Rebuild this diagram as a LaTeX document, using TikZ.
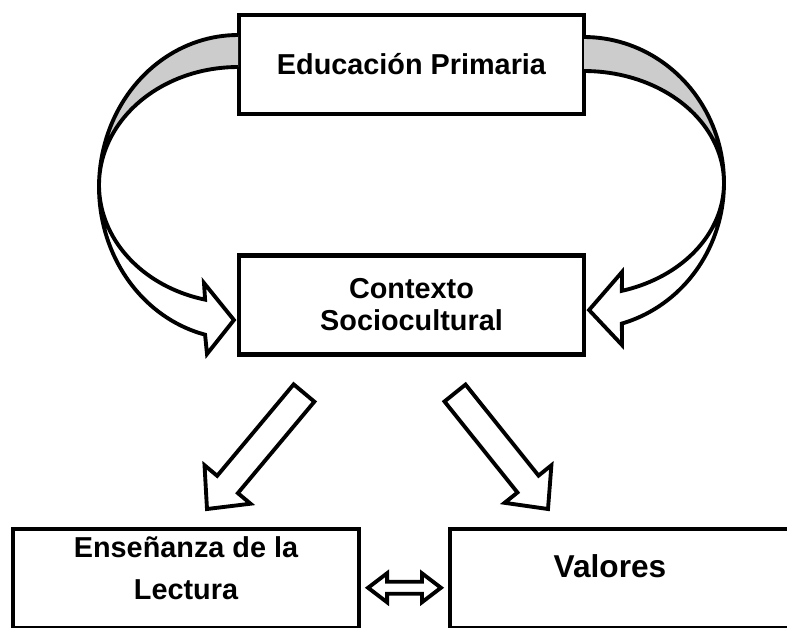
\documentclass[tikz,border=0pt]{standalone}
\usepackage{fontspec}
\setmainfont{Liberation Sans}
\usetikzlibrary{calc}

% hollow straight arrow from #1 (tail) to #2 (tip)
\newcommand{\blockarrow}[2]{%
  \coordinate (hb) at ($(#2)!0.64cm!(#1)$);
  \draw [blk] ($(#1)!0.27cm!90:(#2)$) -- ($(hb)!0.27cm!90:(#2)$) -- ($(hb)!0.6cm!90:(#2)$)
    -- (#2) -- ($(hb)!0.6cm!-90:(#2)$) -- ($(hb)!0.27cm!-90:(#2)$) -- ($(#1)!0.27cm!-90:(#2)$) -- cycle;
}
% hollow arrow with two heads
\newcommand{\dblarrow}[2]{%
  \coordinate (ha) at ($(#1)!0.38cm!(#2)$);
  \coordinate (hb) at ($(#2)!0.38cm!(#1)$);
  \draw [blk] (#1) -- ($(ha)!0.29cm!90:(#2)$) -- ($(ha)!0.12cm!90:(#2)$) -- ($(hb)!0.12cm!-90:(#1)$)
    -- ($(hb)!0.29cm!-90:(#1)$) -- (#2) -- ($(hb)!0.29cm!90:(#1)$) -- ($(hb)!0.12cm!90:(#1)$)
    -- ($(ha)!0.12cm!-90:(#2)$) -- ($(ha)!0.29cm!-90:(#2)$) -- cycle;
}

\begin{document}
\begin{tikzpicture}[x=0.02cm, y=-0.02cm,
    every node/.style={font=\bfseries\fontsize{16.4}{18.2}\selectfont},
    box/.style={draw, line width=2.4pt, minimum width=6.9cm, minimum height=1.98cm, align=center},
    blk/.style={draw, line width=2.2pt}]
    \path [fill=white, use as bounding box] (0, 0) rectangle (787, 627);
    \clip (0, 0) rectangle (787, 627);

    \node [box] (edu) at (411.5, 64.5) {Educación Primaria};
    \node [box] (ctx) at (411.5, 305) {Contexto\\Sociocultural};
    \node [box, minimum width=6.92cm, minimum height=1.99cm, text depth=12.5pt,
      font=\bfseries\fontsize{16.4}{24}\selectfont] (lectura) at (186, 578.75) {Enseñanza de la\\Lectura};
    \node [box, minimum width=7.2cm, minimum height=1.99cm, text depth=14.4pt,
      font=\bfseries\fontsize{18}{20}\selectfont] (valores) at (630, 578.75) {Valores\hspace*{0.8cm}};

    % left loop
    \coordinate (lt) at ($(ctx.west)+(-3, 15)$);
    \fill [gray!40] plot [domain=270:180, samples=40] ({238+139*cos(\x)}, {187+152*sin(\x)})
      -- plot [domain=180:270, samples=40] ({238+139*cos(\x)}, {185+118*sin(\x)}) -- cycle;
    \draw [blk] plot [domain=270:103.7, samples=80] ({238+139*cos(\x)}, {187+152*sin(\x)})
      -- (207, 354) -- (lt) -- (204, 283)
      -- plot [domain=103.7:270, samples=80] ({238+139*cos(\x)}, {185+118*sin(\x)});

    % right loop
    \coordinate (rt) at ($(ctx.east)+(3, 5)$);
    \fill [gray!40] plot [domain=270:360, samples=40] ({584+140*cos(\x)}, {183+146*sin(\x)})
      -- plot [domain=360:270, samples=40] ({584+140*cos(\x)}, {183+112*sin(\x)}) -- cycle;
    \draw [blk] plot [domain=270:434.3, samples=80] ({584+140*cos(\x)}, {183+146*sin(\x)})
      -- (622, 345) -- (rt) -- (622, 272)
      -- plot [domain=434.3:270, samples=80] ({584+140*cos(\x)}, {183+112*sin(\x)});

    \coordinate (la1) at (304, 393);
    \coordinate (la2) at (207, 509);
    \coordinate (ra1) at (455, 393);
    \coordinate (ra2) at (548, 509);
    \blockarrow{la1}{la2}
    \blockarrow{ra1}{ra2}

    \coordinate (da1) at ($(lectura.east)+(7, 9)$);
    \coordinate (da2) at ($(valores.west)+(-7, 9)$);
    \dblarrow{da1}{da2}
\end{tikzpicture}
\end{document}
